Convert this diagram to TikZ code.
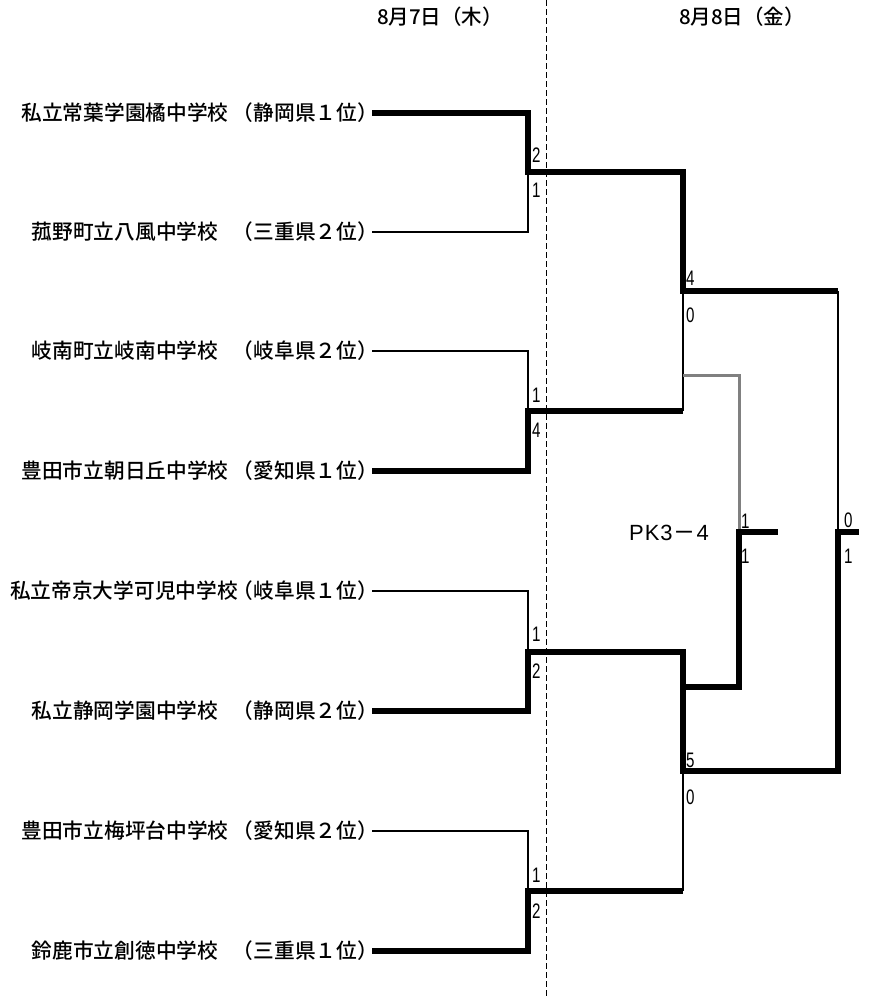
\documentclass[tikz,border=0pt]{standalone}
\usepackage{fontspec}
\setmainfont{Noto Sans CJK JP Medium}
\newfontfamily\pkfont{Liberation Sans}
\newcommand\scnum[1]{\scalebox{0.72}[1]{#1}}
\begin{document}
\begin{tikzpicture}[x=1pt,y=-1pt,
  win/.style={line width=6.5pt,line join=miter,line cap=butt},
  lose/.style={line width=1.7pt,line join=miter},
  grayline/.style={line width=3pt,draw={rgb,255:red,128;green,128;blue,128},line join=miter},
  team/.style={font=\fontsize{20.7}{24}\selectfont,inner sep=0pt,anchor=center},
  pref/.style={font=\fontsize{20.7}{24}\selectfont,inner sep=0pt,anchor=east},
  date/.style={font=\fontsize{20.5}{23}\selectfont,inner sep=0pt},
  score/.style={font=\pkfont\fontsize{21}{23}\selectfont,inner sep=0pt,anchor=west}]
\useasboundingbox (0,0) rectangle (889,1004);
\fill[white] (0,0) rectangle (889,1004);

% dates
\node[date] (d1) at (440,17) {8月7日（木）};
\node[date] (d2) at (742,17) {8月8日（金）};
\coordinate (dtop) at (546,0);
\coordinate (dbot) at (546,997);
\draw[line width=1pt,dash pattern=on 6pt off 3pt] (dtop) -- (dbot);

% team line starts
\foreach \i/\y in {1/113,2/232,3/351,4/471,5/591,6/711,7/831,8/951}{
  \coordinate (s\i) at (372,\y);
}
% teams
\node[team] (n1) at (125,113) {私立常葉学園橘中学校};
\node[team] (n2) at (125,232) {菰野町立八風中学校};
\node[team] (n3) at (125,351) {岐南町立岐南中学校};
\node[team] (n4) at (125,471) {豊田市立朝日丘中学校};
\node[team] (n5) at (124,591) {私立帝京大学可児中学校};
\node[team] (n6) at (125,711) {私立静岡学園中学校};
\node[team] (n7) at (125,831) {豊田市立梅坪台中学校};
\node[team] (n8) at (125,951) {鈴鹿市立創徳中学校};
\node[pref] (p1) at ([xshift=6pt]s1) {（静岡県１位）};
\node[pref] (p2) at ([xshift=6pt]s2) {（三重県２位）};
\node[pref] (p3) at ([xshift=6pt]s3) {（岐阜県２位）};
\node[pref] (p4) at ([xshift=6pt]s4) {（愛知県１位）};
\node[pref] (p5) at ([xshift=6pt]s5) {（岐阜県１位）};
\node[pref] (p6) at ([xshift=6pt]s6) {（静岡県２位）};
\node[pref] (p7) at ([xshift=6pt]s7) {（愛知県２位）};
\node[pref] (p8) at ([xshift=6pt]s8) {（三重県１位）};

% junctions
\coordinate (m1) at (528,172);
\coordinate (m2) at (528,411);
\coordinate (m3) at (528,652);
\coordinate (m4) at (528,891);
\coordinate (q1) at (683,291);
\coordinate (q2) at (683,771);
\coordinate (f) at (838,532);
\coordinate (fe) at (859,532);
\coordinate (t) at (739,532);
\coordinate (te) at (778,532);
\coordinate (g1) at (683,375);
\coordinate (g2) at (683,687);

% thin (losing) lines
\draw[lose] (s2) -| (m1);
\draw[lose] (s3) -| (m2);
\draw[lose] (s5) -| (m3);
\draw[lose] (s7) -| (m4);
\draw[lose] (m2 -| q1) -- (q1);
\draw[lose] (m4 -| q2) -- (q2);
\draw[lose] (q1 -| f) -- (f);
\draw[grayline] (g1) -| (t);

% thick (winning) lines
\draw[win] (s1) -| (m1) -- (m1 -| q1) -- (q1) -- (q1 -| f);
\draw[win] (s4) -| (m2) -- (m2 -| q1);
\draw[win] (s6) -| (m3) -- (m3 -| q2) -- (q2) -- (q2 -| f) -- (f) -- (fe);
\draw[win] (s8) -| (m4) -- (m4 -| q2);
\draw[win] (g2) -| (t) -- (te);

% scores
\node[score] (a1) at (532,155) {\scnum{2}};
\node[score] (b1) at (532,190) {\scnum{1}};
\node[score] (a2) at (532,395) {\scnum{1}};
\node[score] (b2) at (532,430) {\scnum{4}};
\node[score] (a3) at (532,634) {\scnum{1}};
\node[score] (b3) at (532,671) {\scnum{2}};
\node[score] (a4) at (532,875) {\scnum{1}};
\node[score] (b4) at (532,911) {\scnum{2}};
\node[score] (a5) at (686,278) {\scnum{4}};
\node[score] (b5) at (686,315) {\scnum{0}};
\node[score] (a6) at (686,760) {\scnum{5}};
\node[score] (b6) at (686,797) {\scnum{0}};
\node[score] (a7) at (741,521) {\scnum{1}};
\node[score] (b7) at (741,556) {\scnum{1}};
\node[score] (a8) at (844,520) {\scnum{0}};
\node[score] (b8) at (844,556) {\scnum{1}};

\node[inner sep=0pt,font=\fontsize{22}{24}\selectfont] (pk) at (669,533)
  {{\pkfont P\kern1pt K\kern1pt 3}\kern1pt －\kern1pt{\pkfont 4}};
\end{tikzpicture}
\end{document}
